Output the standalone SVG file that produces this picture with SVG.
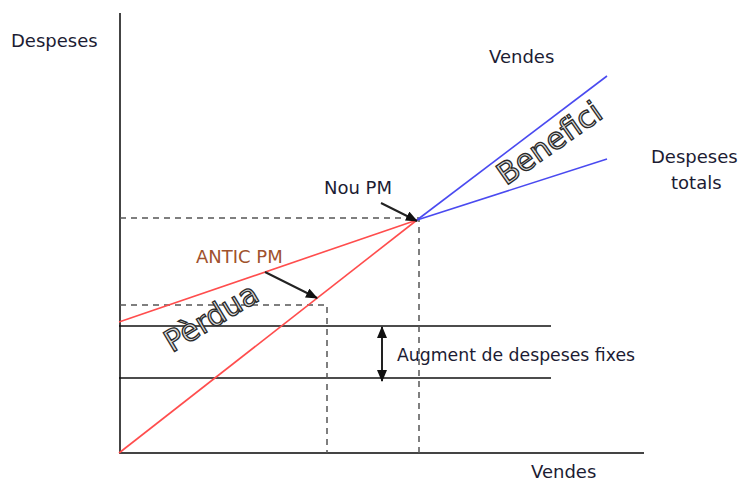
<svg xmlns="http://www.w3.org/2000/svg" width="745" height="484" viewBox="0 0 745 484">
<style>
text{font-family:"DejaVu Sans","Liberation Sans",sans-serif;fill:#1c1c33;font-size:18px}
.ax{stroke:#444;stroke-width:2;fill:none}
.fix{stroke:#111;stroke-width:1.5;fill:none}
.dash{stroke:#555;stroke-width:1.5;stroke-dasharray:6 5;fill:none}
.red{stroke:#ff4d4d;stroke-width:1.6;fill:none}
.blue{stroke:#4a4af0;stroke-width:1.6;fill:none}
.arr{stroke:#222;stroke-width:2;fill:none}
.out{fill:#dcdcdc;stroke:#2a2a2a;stroke-width:1.3;font-size:30px}
</style>
<defs>
<marker id="ah" markerWidth="12" markerHeight="10" refX="11" refY="5" orient="auto-start-reverse" markerUnits="userSpaceOnUse">
<path d="M0,0 L12,5 L0,10 z" fill="#111"/>
</marker>
</defs>
<rect width="745" height="484" fill="#fff"/>
<g id="axes">
<line class="ax" x1="120" y1="13" x2="120" y2="454"/>
<line class="ax" x1="119" y1="453" x2="644" y2="453"/>
<text x="11" y="47">Despeses</text>
<text x="531" y="478">Vendes</text>
</g>
<g id="fixed-costs">
<line class="fix" x1="119" y1="326" x2="551" y2="326"/>
<line class="fix" x1="119" y1="378" x2="551" y2="378"/>
</g>
<g id="guides">
<polyline class="dash" points="120,218 419,218 419,453"/>
<polyline class="dash" points="120,305 327,305 327,453"/>
</g>
<g id="lines">
<line class="red" x1="119" y1="322" x2="417" y2="220"/>
<line class="red" x1="119" y1="453" x2="417" y2="220"/>
<line class="blue" x1="417" y1="220" x2="607" y2="76"/>
<line class="blue" x1="417" y1="220" x2="607" y2="159"/>
</g>
<g id="connectors">
<line class="arr" x1="381" y1="203" x2="417" y2="221" marker-end="url(#ah)"/>
<line class="arr" x1="265" y1="272" x2="317" y2="298" marker-end="url(#ah)"/>
<line class="arr" x1="382" y1="327" x2="382" y2="381" marker-start="url(#ah)" marker-end="url(#ah)"/>
</g>
<g id="labels">
<text x="489" y="63">Vendes</text>
<text x="651" y="163">Despeses</text>
<text x="671" y="189">totals</text>
<text x="324" y="194">Nou PM</text>
<text x="196" y="263" style="fill:#a0522d">ANTIC PM</text>
<text x="397" y="361" style="font-size:17.3px">Augment de despeses fixes</text>
<text class="out" x="172" y="353" transform="rotate(-31 172 353)">Pèrdua</text>
<text class="out" x="506" y="186" transform="rotate(-35 506 186)">Benefici</text>
</g>
</svg>
